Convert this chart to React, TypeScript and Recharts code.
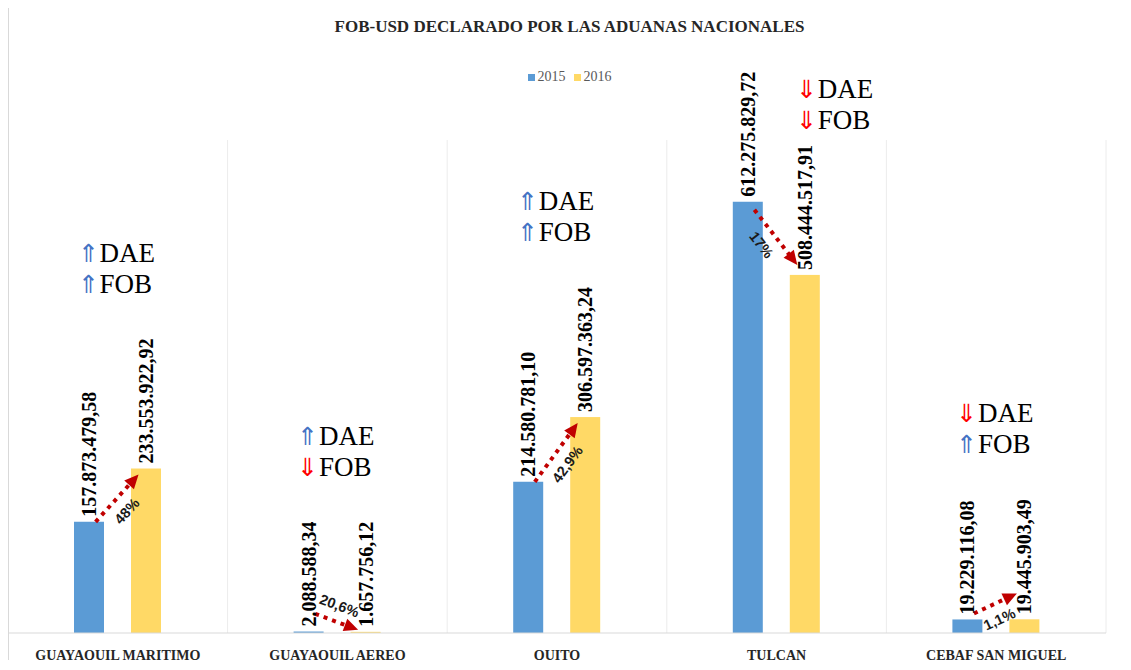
import React from 'react';
import { BarChart, Bar, XAxis, YAxis, CartesianGrid, Legend, LabelList } from 'recharts';

const categories = ['GUAYAQUIL MARITIMO', 'GUAYAQUIL AEREO', 'QUITO', 'TULCAN', 'CEBAF SAN MIGUEL'];
const fob2015 = [157873479.58, 2088588.34, 214580781.1, 612275829.72, 19229116.08];
const fob2016 = [233553922.92, 1657756.12, 306597363.24, 508444517.91, 19445903.49];
const changeLabels = ['48%', '20,6%', '42,9%', '17%', '1,1%'];
const daeTrend = ['up', 'up', 'up', 'down', 'down'];
const fobTrend = ['up', 'down', 'up', 'down', 'up'];
const seriesNames = ['2015', '2016'];
const yDomain = [0, 700000000];

const data = categories.map((name, i) => ({
  name,
  y2015: fob2015[i],
  y2016: fob2016[i],
  change: changeLabels[i],
  dae: daeTrend[i],
  fob: fobTrend[i],
}));

const SERIF = '"Liberation Serif", "Times New Roman", serif';
const NARROW = '"Liberation Sans Narrow", "Arial Narrow", "Liberation Sans", sans-serif';
const BLUE = '#5B9BD5';
const GOLD = '#FFD966';
const DARK_RED = '#C00000';
const BAR_SIZE = 30;
const BAR_GAP = 27;
const VALUE_FS = 20;
const ANNOT_TOP = 92; // highest baseline allowed for the DAE/FOB notes
const W = 1123;
const H = 662;

const fmt = (v: number) =>
  v.toLocaleString('de-DE', { minimumFractionDigits: 2, maximumFractionDigits: 2 });

// rough length of a rotated value label (bold serif digits ~0.5em, punctuation ~0.25em)
const labelLength = (v: number) =>
  fmt(v)
    .split('')
    .reduce((s, ch) => s + (/\d/.test(ch) ? 0.5 : 0.25) * VALUE_FS, 0);

const ValueLabel = (props: any) => {
  const vb = props.viewBox || props;
  const { x, y, width } = vb;
  const cx = x + width / 2 + 7;
  const ty = y - 5;
  return (
    <text
      transform={`translate(${cx},${ty}) rotate(-90)`}
      fontFamily={SERIF}
      fontWeight="bold"
      fontSize={VALUE_FS}
      fill="#000"
    >
      {fmt(Number(props.value))}
    </text>
  );
};

const Trend = ({ left, y, dir, word }: any) => (
  <g>
    <text
      x={left + 11}
      y={y}
      textAnchor="end"
      fontFamily={SERIF}
      fontSize={25}
      fill={dir === 'up' ? '#4472C4' : '#FF0000'}
    >
      {dir === 'up' ? '⇑' : '⇓'}
    </text>
    <text x={left + 12} y={y} fontFamily={SERIF} fontSize={27} fill="#000">
      {word}
    </text>
  </g>
);

// 2016 bar + the change arrow, percentage and DAE/FOB notes of its category
const ChangeBar = (props: any) => {
  const { x, y, width, height, payload } = props;
  const bottom = y + height;
  const k = height / payload.y2016;
  const top1 = bottom - k * payload.y2015;
  const top2 = y;
  const x1 = x - BAR_GAP - width;
  const up = payload.y2016 >= payload.y2015;

  const sx = x1 + width * 0.72;
  const ex = x + width * 0.25;
  let sy: number;
  let ey: number;
  if (Math.abs(top2 - top1) < 20) {
    if (up) {
      sy = top1 - 6;
      ey = sy - 20;
    } else {
      ey = top2 - 2;
      sy = ey - 16;
    }
  } else if (up) {
    sy = top1;
    ey = top2 + 6;
  } else {
    sy = top1 + 8;
    ey = top2 - 10;
  }
  const len = Math.hypot(ex - sx, ey - sy);
  const ux = (ex - sx) / len;
  const uy = (ey - sy) / len;
  const nx = -uy;
  const ny = ux;
  const headL = 14;
  const headW = 6.5;
  const bx = ex - ux * headL;
  const by = ey - uy * headL;
  const side = Math.max(sy, ey) > bottom - 12 ? -1 : 1;
  const tx = (sx + ex) / 2 - ux * 3 + nx * side * 16;
  const ty = (sy + ey) / 2 - uy * 3 + ny * side * 16;
  const ang = (Math.atan2(uy, ux) * 180) / Math.PI;

  const lt1 = top1 - 5 - labelLength(payload.y2015);
  const lt2 = top2 - 5 - labelLength(payload.y2016);
  let fobY = Math.min(lt1, lt2) - 46;
  let daeY = fobY - 31;
  let cx = x1 + (2 * width + BAR_GAP) / 2;
  if (daeY < ANNOT_TOP) {
    daeY = ANNOT_TOP;
    fobY = daeY + 31;
    cx = x + width / 2 + 31;
  }
  const left = cx - 30;

  return (
    <g>
      <rect x={x} y={y} width={width} height={height} fill={GOLD} />
      <line
        x1={sx}
        y1={sy}
        x2={ex - ux * 11}
        y2={ey - uy * 11}
        stroke={DARK_RED}
        strokeWidth={4}
        strokeDasharray="4 5"
      />
      <polygon
        points={`${ex},${ey} ${bx + nx * headW},${by + ny * headW} ${bx - nx * headW},${by - ny * headW}`}
        fill={DARK_RED}
      />
      <text
        transform={`translate(${tx},${ty}) rotate(${ang})`}
        textAnchor="middle"
        dominantBaseline="central"
        fontFamily={NARROW}
        fontWeight="bold"
        fontSize={14.5}
        fill="#1a1a1a"
      >
        {payload.change}
      </text>
      <Trend left={left} y={daeY} dir={payload.dae} word="DAE" />
      <Trend left={left} y={fobY} dir={payload.fob} word="FOB" />
    </g>
  );
};

const CategoryTick = ({ x, y, payload }: any) => (
  <text
    x={x}
    y={y + 27}
    textAnchor="middle"
    fontFamily={SERIF}
    fontWeight="bold"
    fontSize={14}
    fill="#262626"
  >
    {payload.value}
  </text>
);

const LegendContent = () => (
  <div
    style={{
      display: 'flex',
      justifyContent: 'center',
      gap: 8,
      fontFamily: SERIF,
      fontSize: 14,
      lineHeight: '18px',
      color: '#595959',
    }}
  >
    {seriesNames.map((s, i) => (
      <span key={s} style={{ display: 'flex', alignItems: 'center' }}>
        <span
          style={{ width: 7, height: 7, background: i === 0 ? BLUE : GOLD, marginRight: 3 }}
        />
        {s}
      </span>
    ))}
  </div>
);

export default function App() {
  return (
    <div
      style={{
        position: 'relative',
        width: W,
        height: H,
        marginTop: -2,
        marginBottom: -8,
        background: '#fff',
      }}
    >
      <div
        style={{
          position: 'absolute',
          left: 0,
          top: 0,
          width: W,
          height: H,
          borderTop: '1px solid #d9d9d9',
          borderLeft: '1px solid #d9d9d9',
          boxSizing: 'border-box',
          pointerEvents: 'none',
        }}
      />
      <div
        style={{
          position: 'absolute',
          top: 12,
          left: 0,
          width: W,
          textAlign: 'center',
          fontFamily: SERIF,
          fontWeight: 'bold',
          fontSize: 17,
          lineHeight: '18px',
          color: '#262626',
        }}
      >
        FOB-USD DECLARADO POR LAS ADUANAS NACIONALES
      </div>
      <BarChart
        width={W}
        height={H}
        data={data}
        margin={{ top: 134, right: 25, left: 0, bottom: 0 }}
        barGap={BAR_GAP}
      >
        <CartesianGrid
          horizontal={false}
          stroke="#ececec"
          verticalCoordinatesGenerator={({ offset }: any) =>
            categories.map((_, i) => offset.left + (offset.width * (i + 1)) / categories.length)
          }
        />
        <XAxis
          dataKey="name"
          height={35}
          axisLine={{ stroke: '#d9d9d9' }}
          tickLine={false}
          tickSize={0}
          tickMargin={0}
          interval={0}
          tick={<CategoryTick />}
        />
        <YAxis hide domain={yDomain} />
        <Legend
          layout="horizontal"
          verticalAlign="middle"
          align="center"
          wrapperStyle={{ top: 62, left: 0, width: W }}
          content={<LegendContent />}
        />
        <Bar dataKey="y2015" name={seriesNames[0]} fill={BLUE} barSize={BAR_SIZE} isAnimationActive={false}>
          <LabelList dataKey="y2015" content={<ValueLabel />} />
        </Bar>
        <Bar
          dataKey="y2016"
          name={seriesNames[1]}
          fill={GOLD}
          barSize={BAR_SIZE}
          isAnimationActive={false}
          shape={<ChangeBar />}
        >
          <LabelList dataKey="y2016" content={<ValueLabel />} />
        </Bar>
      </BarChart>
    </div>
  );
}
